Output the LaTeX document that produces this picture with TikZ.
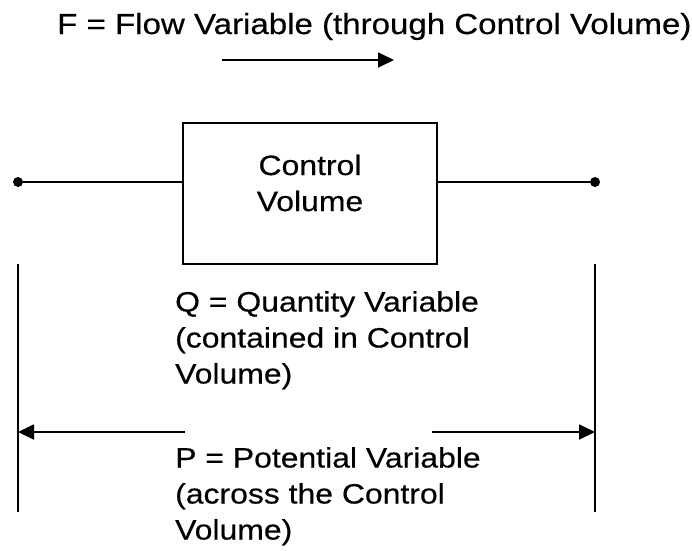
\documentclass[tikz,border=0pt]{standalone}
\usepackage{fontspec}
\setmainfont{Liberation Sans}[FakeStretch=1.14,FakeBold=0.4]
\usetikzlibrary{arrows.meta}
\begin{document}
\begin{tikzpicture}[x=1pt,y=-1pt,
  lbl/.style={inner sep=0pt,align=left,font=\fontsize{28}{36}\selectfont},
  ln/.style={line width=1.8pt},
  tip/.style={-{Triangle[length=16pt,width=15pt]}},
  dot/.style={circle,fill=black,inner sep=0pt,minimum size=10pt}]
\useasboundingbox (0,0) rectangle (692,550);
\node[lbl,anchor=base west,font=\fontsize{29}{36}\selectfont] (title) at (57,34) {F = Flow Variable (through Control Volume)};
\coordinate (fa) at (222,60);
\coordinate (fb) at (394,60);
\draw[ln,tip] (fa) -- (fb);
\node[draw,ln,minimum width=254pt,minimum height=141pt,inner sep=0pt] (cv) at (310,193.5) {};
\node[lbl,align=center] (cvt) at (310,183) {Control\\Volume};
\node[dot] (d1) at (18,182) {};
\node[dot] (d2) at (595,182) {};
\draw[ln] (d1) -- (d1 -| cv.west);
\draw[ln] (d2) -- (d2 -| cv.east);
\coordinate (l1) at (18,264);
\coordinate (l2) at (18,512);
\coordinate (r1) at (595,264);
\coordinate (r2) at (595,512);
\draw[ln] (l1) -- (l2);
\draw[ln] (r1) -- (r2);
\node[lbl,anchor=north west] (q) at (175,291) {Q = Quantity Variable\\(contained in Control\\Volume)};
\node[lbl,anchor=north west] (p) at (175,447) {P = Potential Variable\\(across the Control\\Volume)};
\coordinate (pl) at (18,432);
\coordinate (pr) at (595,432);
\coordinate (pl2) at (185,432);
\coordinate (pr2) at (432,432);
\draw[ln,tip] (pl2) -- (pl);
\draw[ln,tip] (pr2) -- (pr);
\end{tikzpicture}
\end{document}
